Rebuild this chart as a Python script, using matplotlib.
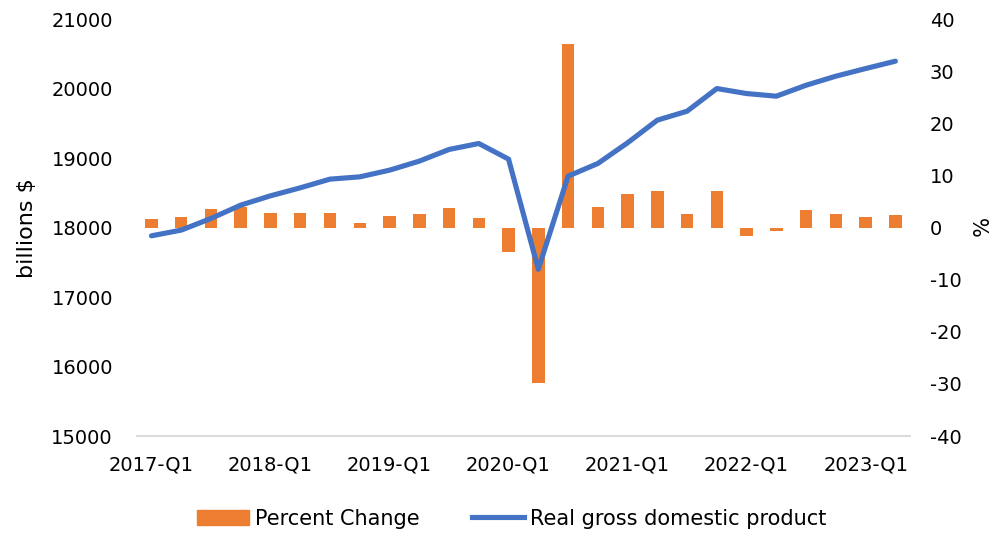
import matplotlib
matplotlib.use("Agg")
import matplotlib.pyplot as plt
import numpy as np
from matplotlib.lines import Line2D
from matplotlib.patches import Patch

# Quarterly series, 2017-Q1 .. 2023-Q2
quarters = [f"{y}-Q{q}" for y in range(2017, 2024) for q in range(1, 5)][:26]
gdp = [17882, 17964, 18132, 18324, 18458, 18573, 18698, 18731, 18827, 18957,
       19125, 19211, 18986, 17400, 18741, 18923, 19221, 19547, 19676, 20002,
       19930, 19892, 20050, 20180, 20290, 20396]
pct_change = [1.7, 2.0, 3.5, 4.0, 2.9, 2.8, 2.9, 0.8, 2.2, 2.7,
              3.7, 1.9, -4.6, -29.9, 35.3, 4.0, 6.4, 7.0, 2.7, 7.0,
              -1.6, -0.6, 3.3, 2.7, 2.1, 2.4]
tick_labels = [q if q.endswith("Q1") else "" for q in quarters]

plt.rcParams["font.family"] = ["DejaVu Sans"]
plt.rcParams["axes.unicode_minus"] = False

fig = plt.figure(figsize=(9.97, 5.34), dpi=100)
ax = fig.add_axes([0.137, 0.1835, 0.776, 0.7805])
ax2 = ax.twinx()

x = np.arange(len(quarters))
ax2.bar(x, pct_change, width=0.42, color="#ED7D31")
ax.plot(x, gdp, color="#4472C4", lw=3.7, solid_capstyle="round")

ax.set_zorder(ax2.get_zorder() + 1)
ax.patch.set_visible(False)

ax.set_xlim(-0.5, len(quarters) - 0.5)
ax.set_ylim(15000, 21000)
ax2.set_ylim(-40, 40)
ax.set_yticks(range(15000, 21001, 1000))
ax2.set_yticks(range(-40, 41, 10))
ax.set_xticks(x)
ax.set_xticklabels(tick_labels)

for a in (ax, ax2):
    for s in ("top", "left", "right"):
        a.spines[s].set_visible(False)
    a.spines["bottom"].set_color("#D9D9D9")
    a.spines["bottom"].set_linewidth(1.2)
    a.tick_params(length=0, labelsize=14)
ax.tick_params(axis="x", pad=14)
ax.tick_params(axis="y", pad=17)
ax2.tick_params(axis="y", pad=14)

ax.set_ylabel("billions $", fontsize=16, labelpad=10)
ax2.set_ylabel("%", fontsize=15, rotation=270, labelpad=4, va="bottom")

handles = [Patch(color="#ED7D31"), Line2D([0], [0], color="#4472C4", lw=3.7)]
fig.legend(handles, ["Percent Change", "Real gross domestic product"],
           loc="lower center", bbox_to_anchor=(0.513, -0.025), ncol=2, frameon=False,
           fontsize=15, handlelength=2.5, columnspacing=2.5, handletextpad=0.3)

fig.savefig("out.png", dpi=100)
